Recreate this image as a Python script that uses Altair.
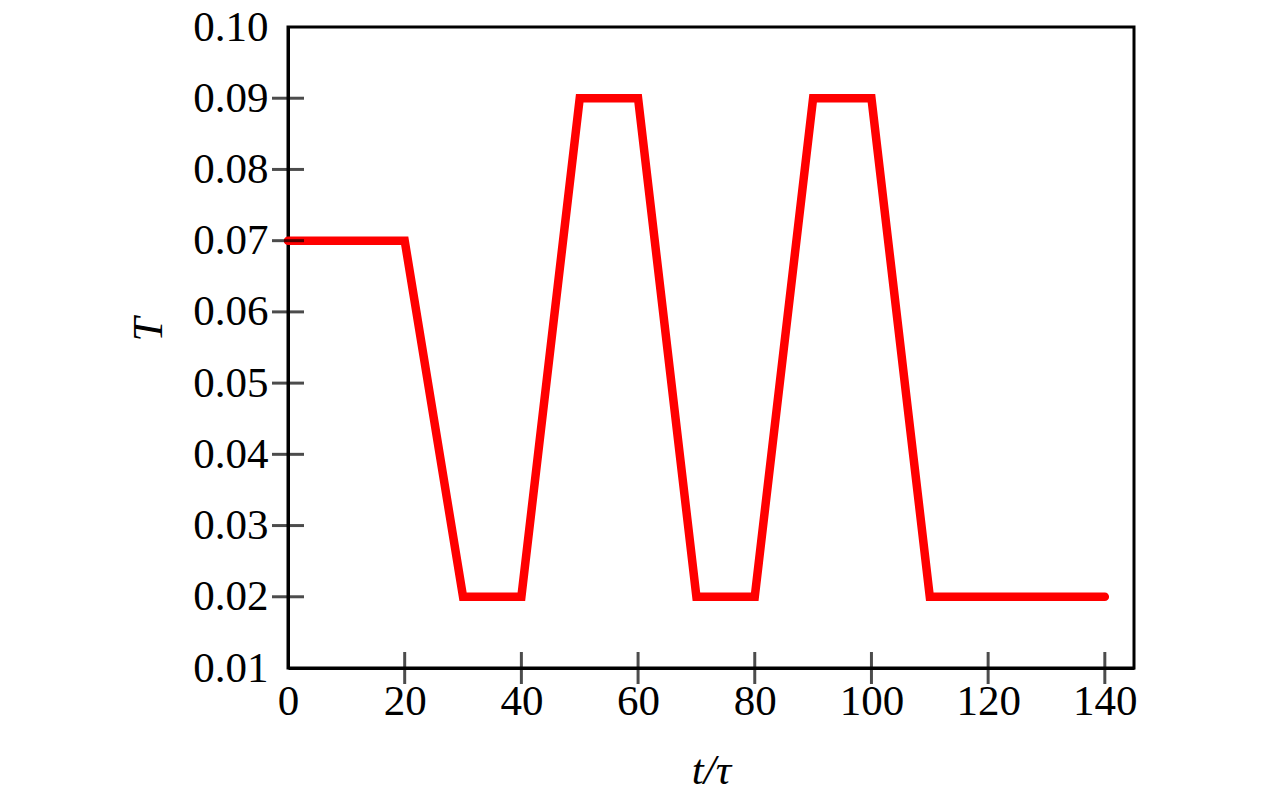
import altair as alt
import pandas as pd

t_vals = [0, 20, 30, 40, 50, 60, 70, 80, 90, 100, 110, 140]
T_vals = [0.07, 0.07, 0.02, 0.02, 0.09, 0.09, 0.02, 0.02, 0.09, 0.09, 0.02, 0.02]
x_ticks = [0, 20, 40, 60, 80, 100, 120, 140]
y_ticks = [0.01, 0.02, 0.03, 0.04, 0.05, 0.06, 0.07, 0.08, 0.09, 0.10]

W, H = 846, 641
TICK = 32
FONT = "Liberation Serif"

df = pd.DataFrame({"t": t_vals, "T": T_vals})
xt = pd.DataFrame({"t": x_ticks[1:]})
yt = pd.DataFrame({"T": y_ticks[1:-1]})

xs = alt.Scale(domain=[0, 145], nice=False, zero=False)
ys = alt.Scale(domain=[0.01, 0.10], nice=False, zero=False)

line = alt.Chart(df).mark_line(
    color="#ff0000", strokeWidth=8.5, strokeCap="round", strokeJoin="miter"
).encode(
    x=alt.X("t:Q", scale=xs, axis=alt.Axis(
        orient="bottom", values=x_ticks, title="t/τ", format="d", labelFlush=False,
        labelPadding=12, titlePadding=26, ticks=False, grid=False)),
    y=alt.Y("T:Q", scale=ys, axis=alt.Axis(
        orient="left", values=y_ticks, title="T", format=".2f", labelFlush=False,
        labelPadding=20, titlePadding=22, titleY=302, ticks=False, grid=False)),
)

xtick = alt.Chart(xt).mark_tick(
    color="black", thickness=3, size=TICK, orient="vertical"
).encode(
    x=alt.X("t:Q", scale=xs),
    y=alt.value(H),
)
ytick = alt.Chart(yt).mark_tick(
    color="black", thickness=3, size=TICK, orient="horizontal"
).encode(
    y=alt.Y("T:Q", scale=ys),
    x=alt.value(0),
)

chart = alt.layer(line, xtick, ytick).properties(
    width=W, height=H,
    background="white",
    autosize=alt.AutoSizeParams(type="none"),
    padding={"left": 280, "top": 19, "right": 20, "bottom": 125},
).configure_view(
    stroke="black", strokeWidth=3
).configure_axis(
    domainColor="black", domainWidth=3, grid=False,
    labelFont=FONT, labelFontSize=43, labelColor="black",
    titleFont=FONT, titleFontSize=43, titleColor="black",
    titleFontStyle="italic", titleFontWeight="normal",
)

chart.save("out.html", embed_options={"renderer": "svg", "actions": False})
